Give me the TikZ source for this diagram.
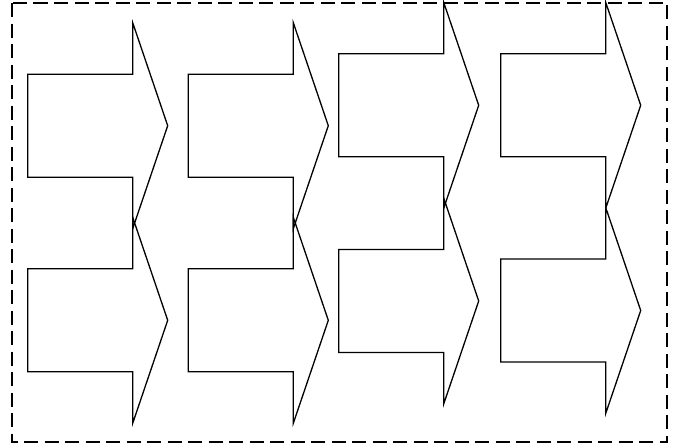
\documentclass[tikz,border=0pt]{standalone}
\begin{document}
\begin{tikzpicture}[x=1pt,y=-1pt,
  outline/.style={draw=black,line width=1.3pt,line join=miter},
  frame/.style={draw=black,line width=1.3pt,dash pattern=on 14pt off 6.5pt},
  bigarrow/.pic={
    \draw[outline] (-140,-51.5) -- (-35,-51.5) -- (-35,-103) -- (0,0)
      -- (-35,103) -- (-35,51.5) -- (-140,51.5) -- cycle;
  }]
\useasboundingbox (0,0) rectangle (677,447);
\draw[frame] (12,3) rectangle (667,442);
\pic at (167.7,125.7) {bigarrow};
\pic at (167.7,320.3) {bigarrow};
\pic at (328.3,125.7) {bigarrow};
\pic at (328.3,320.3) {bigarrow};
\pic at (478.7,105.3) {bigarrow};
\pic at (478.7,301) {bigarrow};
\pic at (640.7,105.3) {bigarrow};
\pic at (640.7,310.5) {bigarrow};
\end{tikzpicture}
\end{document}
